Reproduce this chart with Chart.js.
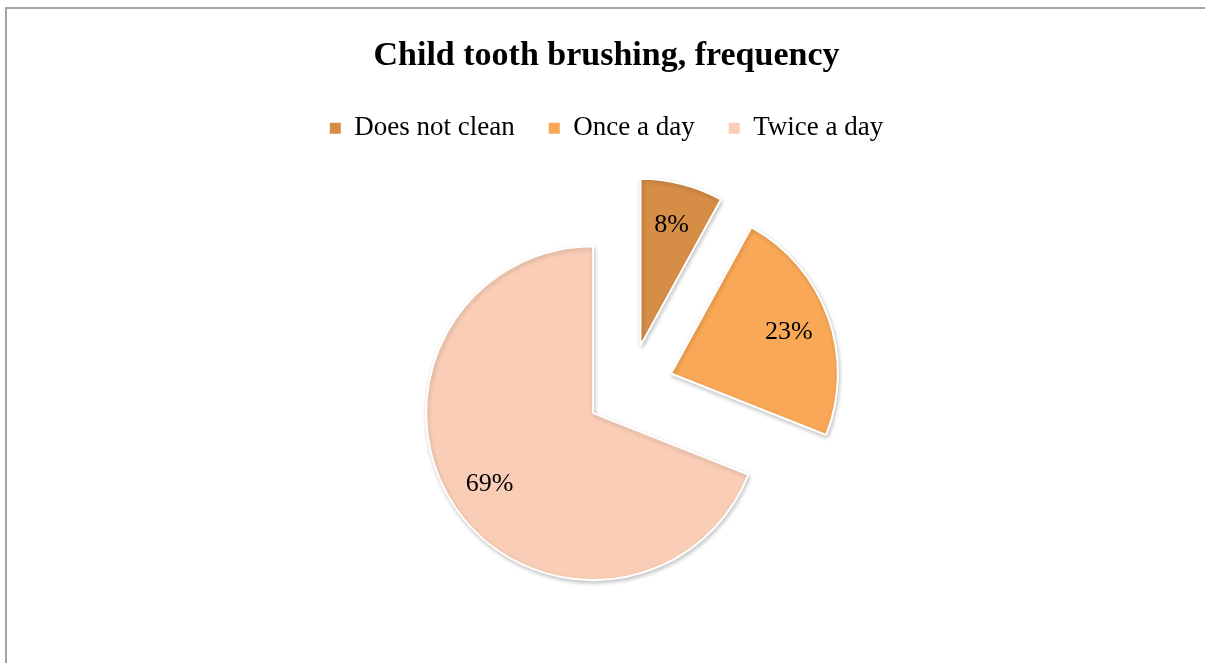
<!DOCTYPE html>
<html>
<head>
<meta charset="utf-8">
<script src="https://cdn.jsdelivr.net/npm/chart.js@4.4.1/dist/chart.umd.min.js"></script>
<style>
  html, body { margin: 0; padding: 0; background: #fff; }
  #wrap { position: relative; width: 1205px; height: 663px; overflow: hidden; }
  #frame { position: absolute; left: 5px; top: 7px; right: -10px; bottom: -10px;
           border-left: 2px solid #a3a3a3; border-top: 2px solid #a3a3a3; }
  canvas { position: absolute; left: 0; top: 0; }
</style>
</head>
<body>
<div id="wrap">
  <div id="frame"></div>
  <canvas id="c" width="1205" height="663"></canvas>
</div>
<script>
const chartTitle = 'Child tooth brushing, frequency';
const categories = ['Does not clean', 'Once a day', 'Twice a day'];
const shares = [8, 23, 69];
const labelsText = ['8%', '23%', '69%'];

const colors = ['#D68D46', '#F9A857', '#FACEB6'];
const explodePx = 44;
const FONT = '"Liberation Serif", "DejaVu Serif", serif';

// Shift the plot area (for the pie only) without moving title / legend
const areaPlugin = {
  id: 'areaShift',
  afterLayout(chart) {
    const a = chart.chartArea;
    a.left += 46;
    a.bottom -= 38;
    a.width = a.right - a.left;
    a.height = a.bottom - a.top;
  }
};

// Explode every slice by a pure translation along its mid angle
const explodePlugin = {
  id: 'explode',
  beforeDatasetsDraw(chart) {
    chart.getDatasetMeta(0).data.forEach(arc => {
      if (arc._exploded) return;
      const orig = arc.draw.bind(arc);
      arc.draw = function (ctx, area) {
        const mid = (this.startAngle + this.endAngle) / 2;
        ctx.save();
        ctx.translate(Math.cos(mid) * explodePx, Math.sin(mid) * explodePx);
        ctx.shadowColor = 'rgba(0,0,0,0.22)';
        ctx.shadowBlur = 4;
        ctx.shadowOffsetX = 1;
        ctx.shadowOffsetY = 2;
        orig(ctx, area);
        ctx.restore();
      };
      arc._exploded = true;
    });
  }
};

const labelPlugin = {
  id: 'sliceLabels',
  afterDatasetsDraw(chart) {
    const ctx = chart.ctx;
    const meta = chart.getDatasetMeta(0);
    ctx.save();
    ctx.font = '26px ' + FONT;
    ctx.fillStyle = '#000';
    ctx.textAlign = 'center';
    ctx.textBaseline = 'middle';
    meta.data.forEach((arc, i) => {
      const p = arc.getProps(['x', 'y', 'startAngle', 'endAngle', 'outerRadius'], true);
      const mid = (p.startAngle + p.endAngle) / 2;
      const d = explodePx + p.outerRadius * 0.75;
      ctx.fillText(labelsText[i], p.x + Math.cos(mid) * d, p.y + Math.sin(mid) * d + 1);
    });
    ctx.restore();
  }
};

new Chart(document.getElementById('c'), {
  type: 'pie',
  data: {
    labels: categories,
    datasets: [{
      data: shares,
      backgroundColor: colors,
      borderColor: '#ffffff',
      borderWidth: 2,
      hoverOffset: 0
    }]
  },
  options: {
    responsive: false,
    animation: false,
    radius: 167,
    layout: { padding: { left: 8, right: 0, top: 0, bottom: 0 } },
    plugins: {
      title: {
        display: true,
        text: chartTitle,
        color: '#000',
        font: { family: FONT, size: 34, weight: 'bold' },
        padding: { top: 36, bottom: 4 }
      },
      legend: {
        display: true,
        position: 'top',
        labels: {
          color: '#000',
          boxWidth: 11,
          boxHeight: 11,
          padding: 34,
          font: { family: FONT, size: 27 },
          generateLabels(chart) {
            const items = Chart.overrides.pie.plugins.legend.labels.generateLabels(chart);
            items.forEach(it => { it.lineWidth = 0; it.strokeStyle = it.fillStyle; });
            return items;
          }
        }
      },
      tooltip: { enabled: false }
    }
  },
  plugins: [areaPlugin, explodePlugin, labelPlugin]
});
</script>
</body>
</html>
